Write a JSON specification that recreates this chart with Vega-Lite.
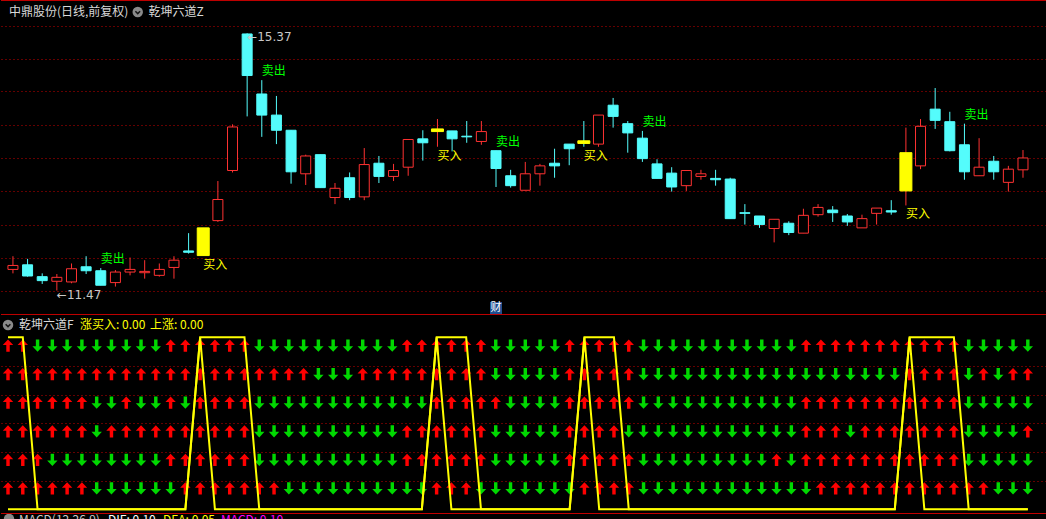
{
"$schema": "https://vega.github.io/schema/vega-lite/v6.json",
"background": "#000000",
"padding": 0,
"spacing": 0,
"bounds": "flush",
"config": {"view": {"stroke": null}, "text": {"font": "Noto Sans CJK SC", "fontSize": 12}},
"datasets": {
"days": [
{"i":0,"o":11.79,"c":11.85,"h":11.99,"l":11.73,"sig":"","hold":1,"buy":0,"a1":1,"a2":1,"a3":1,"a4":1,"a5":1,"a6":1},
{"i":1,"o":11.86,"c":11.69,"h":11.95,"l":11.68,"sig":"","hold":1,"buy":0,"a1":1,"a2":1,"a3":1,"a4":1,"a5":1,"a6":1},
{"i":2,"o":11.68,"c":11.62,"h":11.73,"l":11.57,"sig":"","hold":0,"buy":0,"a1":0,"a2":1,"a3":1,"a4":1,"a5":1,"a6":1},
{"i":3,"o":11.61,"c":11.67,"h":11.72,"l":11.47,"sig":"","hold":0,"buy":0,"a1":0,"a2":1,"a3":1,"a4":1,"a5":0,"a6":1},
{"i":4,"o":11.60,"c":11.80,"h":11.88,"l":11.58,"sig":"","hold":0,"buy":0,"a1":0,"a2":1,"a3":1,"a4":1,"a5":0,"a6":1},
{"i":5,"o":11.83,"c":11.77,"h":11.99,"l":11.72,"sig":"","hold":0,"buy":0,"a1":0,"a2":1,"a3":1,"a4":1,"a5":0,"a6":1},
{"i":6,"o":11.77,"c":11.55,"h":11.81,"l":11.55,"sig":"卖出","hold":0,"buy":0,"a1":0,"a2":1,"a3":0,"a4":0,"a5":0,"a6":0},
{"i":7,"o":11.59,"c":11.75,"h":11.78,"l":11.53,"sig":"","hold":0,"buy":0,"a1":0,"a2":1,"a3":0,"a4":1,"a5":0,"a6":0},
{"i":8,"o":11.75,"c":11.79,"h":11.97,"l":11.70,"sig":"","hold":0,"buy":0,"a1":0,"a2":1,"a3":1,"a4":1,"a5":0,"a6":0},
{"i":9,"o":11.74,"c":11.76,"h":11.93,"l":11.65,"sig":"","hold":0,"buy":0,"a1":0,"a2":1,"a3":0,"a4":1,"a5":0,"a6":0},
{"i":10,"o":11.70,"c":11.79,"h":11.88,"l":11.68,"sig":"","hold":0,"buy":0,"a1":0,"a2":1,"a3":0,"a4":1,"a5":0,"a6":0},
{"i":11,"o":11.82,"c":11.93,"h":11.99,"l":11.65,"sig":"","hold":0,"buy":0,"a1":1,"a2":1,"a3":1,"a4":1,"a5":1,"a6":0},
{"i":12,"o":12.07,"c":12.05,"h":12.34,"l":12.03,"sig":"","hold":0,"buy":0,"a1":1,"a2":1,"a3":0,"a4":1,"a5":1,"a6":1},
{"i":13,"o":12.00,"c":12.42,"h":12.42,"l":12.00,"sig":"买入","hold":1,"buy":1,"a1":1,"a2":1,"a3":1,"a4":1,"a5":1,"a6":1},
{"i":14,"o":12.53,"c":12.85,"h":13.13,"l":12.51,"sig":"","hold":1,"buy":0,"a1":1,"a2":1,"a3":1,"a4":1,"a5":1,"a6":1},
{"i":15,"o":13.29,"c":13.95,"h":13.99,"l":13.26,"sig":"","hold":1,"buy":0,"a1":1,"a2":1,"a3":1,"a4":1,"a5":1,"a6":1},
{"i":16,"o":15.36,"c":14.73,"h":15.37,"l":14.11,"sig":"","hold":1,"buy":0,"a1":1,"a2":1,"a3":1,"a4":1,"a5":1,"a6":1},
{"i":17,"o":14.45,"c":14.13,"h":14.66,"l":13.80,"sig":"卖出","hold":0,"buy":0,"a1":0,"a2":1,"a3":0,"a4":0,"a5":0,"a6":1},
{"i":18,"o":14.13,"c":13.90,"h":14.42,"l":13.69,"sig":"","hold":0,"buy":0,"a1":0,"a2":1,"a3":0,"a4":0,"a5":0,"a6":1},
{"i":19,"o":13.90,"c":13.27,"h":13.90,"l":13.09,"sig":"","hold":0,"buy":0,"a1":0,"a2":1,"a3":0,"a4":0,"a5":0,"a6":0},
{"i":20,"o":13.24,"c":13.51,"h":13.53,"l":13.07,"sig":"","hold":0,"buy":0,"a1":0,"a2":1,"a3":0,"a4":0,"a5":0,"a6":0},
{"i":21,"o":13.53,"c":13.03,"h":13.53,"l":13.03,"sig":"","hold":0,"buy":0,"a1":0,"a2":0,"a3":0,"a4":0,"a5":0,"a6":0},
{"i":22,"o":12.88,"c":13.02,"h":13.10,"l":12.78,"sig":"","hold":0,"buy":0,"a1":0,"a2":0,"a3":0,"a4":0,"a5":0,"a6":0},
{"i":23,"o":13.18,"c":12.88,"h":13.26,"l":12.84,"sig":"","hold":0,"buy":0,"a1":0,"a2":0,"a3":0,"a4":0,"a5":0,"a6":0},
{"i":24,"o":12.89,"c":13.38,"h":13.63,"l":12.84,"sig":"","hold":0,"buy":0,"a1":0,"a2":1,"a3":0,"a4":0,"a5":0,"a6":0},
{"i":25,"o":13.40,"c":13.20,"h":13.51,"l":13.10,"sig":"","hold":0,"buy":0,"a1":0,"a2":1,"a3":0,"a4":0,"a5":0,"a6":0},
{"i":26,"o":13.20,"c":13.29,"h":13.39,"l":13.13,"sig":"","hold":0,"buy":0,"a1":0,"a2":1,"a3":0,"a4":0,"a5":0,"a6":0},
{"i":27,"o":13.34,"c":13.76,"h":13.76,"l":13.21,"sig":"","hold":0,"buy":0,"a1":1,"a2":1,"a3":0,"a4":1,"a5":1,"a6":0},
{"i":28,"o":13.77,"c":13.71,"h":13.90,"l":13.44,"sig":"","hold":0,"buy":0,"a1":1,"a2":1,"a3":0,"a4":1,"a5":1,"a6":0},
{"i":29,"o":13.88,"c":13.92,"h":14.07,"l":13.65,"sig":"买入","hold":1,"buy":1,"a1":1,"a2":1,"a3":1,"a4":1,"a5":1,"a6":1},
{"i":30,"o":13.89,"c":13.77,"h":13.89,"l":13.58,"sig":"","hold":1,"buy":0,"a1":1,"a2":1,"a3":1,"a4":1,"a5":1,"a6":1},
{"i":31,"o":13.81,"c":13.80,"h":14.04,"l":13.71,"sig":"","hold":1,"buy":0,"a1":1,"a2":1,"a3":1,"a4":1,"a5":1,"a6":1},
{"i":32,"o":13.73,"c":13.88,"h":14.04,"l":13.68,"sig":"","hold":0,"buy":0,"a1":1,"a2":1,"a3":1,"a4":1,"a5":1,"a6":0},
{"i":33,"o":13.59,"c":13.32,"h":13.59,"l":13.04,"sig":"卖出","hold":0,"buy":0,"a1":0,"a2":0,"a3":1,"a4":0,"a5":0,"a6":0},
{"i":34,"o":13.21,"c":13.06,"h":13.30,"l":13.03,"sig":"","hold":0,"buy":0,"a1":0,"a2":0,"a3":0,"a4":0,"a5":0,"a6":0},
{"i":35,"o":12.99,"c":13.24,"h":13.42,"l":12.99,"sig":"","hold":0,"buy":0,"a1":0,"a2":0,"a3":0,"a4":0,"a5":0,"a6":0},
{"i":36,"o":13.24,"c":13.36,"h":13.39,"l":13.06,"sig":"","hold":0,"buy":0,"a1":0,"a2":0,"a3":0,"a4":0,"a5":0,"a6":0},
{"i":37,"o":13.40,"c":13.36,"h":13.62,"l":13.18,"sig":"","hold":0,"buy":0,"a1":0,"a2":0,"a3":0,"a4":0,"a5":0,"a6":0},
{"i":38,"o":13.69,"c":13.62,"h":13.69,"l":13.37,"sig":"","hold":0,"buy":0,"a1":1,"a2":1,"a3":1,"a4":1,"a5":1,"a6":0},
{"i":39,"o":13.74,"c":13.70,"h":14.04,"l":13.65,"sig":"买入","hold":1,"buy":1,"a1":1,"a2":1,"a3":1,"a4":1,"a5":1,"a6":1},
{"i":40,"o":13.69,"c":14.13,"h":14.13,"l":13.65,"sig":"","hold":1,"buy":0,"a1":1,"a2":1,"a3":1,"a4":1,"a5":1,"a6":1},
{"i":41,"o":14.28,"c":14.11,"h":14.39,"l":13.94,"sig":"","hold":1,"buy":0,"a1":1,"a2":1,"a3":1,"a4":1,"a5":1,"a6":1},
{"i":42,"o":14.00,"c":13.86,"h":14.04,"l":13.56,"sig":"","hold":0,"buy":0,"a1":1,"a2":1,"a3":1,"a4":0,"a5":1,"a6":1},
{"i":43,"o":13.78,"c":13.47,"h":13.89,"l":13.42,"sig":"卖出","hold":0,"buy":0,"a1":0,"a2":0,"a3":0,"a4":0,"a5":0,"a6":0},
{"i":44,"o":13.39,"c":13.17,"h":13.46,"l":13.17,"sig":"","hold":0,"buy":0,"a1":0,"a2":0,"a3":0,"a4":0,"a5":0,"a6":0},
{"i":45,"o":13.25,"c":13.04,"h":13.34,"l":12.97,"sig":"","hold":0,"buy":0,"a1":0,"a2":0,"a3":0,"a4":0,"a5":0,"a6":0},
{"i":46,"o":13.06,"c":13.29,"h":13.29,"l":12.98,"sig":"","hold":0,"buy":0,"a1":0,"a2":0,"a3":0,"a4":0,"a5":0,"a6":0},
{"i":47,"o":13.20,"c":13.24,"h":13.30,"l":13.15,"sig":"","hold":0,"buy":0,"a1":0,"a2":0,"a3":0,"a4":0,"a5":0,"a6":0},
{"i":48,"o":13.17,"c":13.15,"h":13.30,"l":13.06,"sig":"","hold":0,"buy":0,"a1":0,"a2":0,"a3":0,"a4":0,"a5":0,"a6":0},
{"i":49,"o":13.16,"c":12.56,"h":13.18,"l":12.56,"sig":"","hold":0,"buy":0,"a1":0,"a2":0,"a3":0,"a4":0,"a5":0,"a6":0},
{"i":50,"o":12.65,"c":12.64,"h":12.78,"l":12.47,"sig":"","hold":0,"buy":0,"a1":0,"a2":0,"a3":0,"a4":0,"a5":0,"a6":0},
{"i":51,"o":12.60,"c":12.47,"h":12.60,"l":12.42,"sig":"","hold":0,"buy":0,"a1":0,"a2":0,"a3":0,"a4":0,"a5":0,"a6":0},
{"i":52,"o":12.41,"c":12.55,"h":12.55,"l":12.20,"sig":"","hold":0,"buy":0,"a1":0,"a2":0,"a3":0,"a4":0,"a5":1,"a6":0},
{"i":53,"o":12.49,"c":12.35,"h":12.52,"l":12.31,"sig":"","hold":0,"buy":0,"a1":0,"a2":0,"a3":0,"a4":0,"a5":0,"a6":0},
{"i":54,"o":12.34,"c":12.61,"h":12.71,"l":12.34,"sig":"","hold":0,"buy":0,"a1":1,"a2":0,"a3":1,"a4":1,"a5":1,"a6":0},
{"i":55,"o":12.62,"c":12.73,"h":12.78,"l":12.59,"sig":"","hold":0,"buy":0,"a1":1,"a2":0,"a3":1,"a4":1,"a5":1,"a6":1},
{"i":56,"o":12.69,"c":12.65,"h":12.75,"l":12.51,"sig":"","hold":0,"buy":0,"a1":1,"a2":0,"a3":1,"a4":1,"a5":1,"a6":1},
{"i":57,"o":12.60,"c":12.51,"h":12.63,"l":12.45,"sig":"","hold":0,"buy":0,"a1":1,"a2":0,"a3":1,"a4":0,"a5":1,"a6":1},
{"i":58,"o":12.42,"c":12.56,"h":12.62,"l":12.42,"sig":"","hold":0,"buy":0,"a1":1,"a2":0,"a3":1,"a4":1,"a5":1,"a6":1},
{"i":59,"o":12.64,"c":12.72,"h":12.72,"l":12.47,"sig":"","hold":0,"buy":0,"a1":1,"a2":0,"a3":1,"a4":1,"a5":1,"a6":1},
{"i":60,"o":12.68,"c":12.66,"h":12.84,"l":12.62,"sig":"","hold":0,"buy":0,"a1":1,"a2":0,"a3":1,"a4":1,"a5":1,"a6":1},
{"i":61,"o":12.98,"c":13.56,"h":13.94,"l":12.76,"sig":"买入","hold":1,"buy":1,"a1":1,"a2":1,"a3":1,"a4":1,"a5":1,"a6":1},
{"i":62,"o":13.36,"c":13.96,"h":14.07,"l":13.31,"sig":"","hold":1,"buy":0,"a1":1,"a2":1,"a3":1,"a4":1,"a5":1,"a6":1},
{"i":63,"o":14.22,"c":14.05,"h":14.54,"l":13.92,"sig":"","hold":1,"buy":0,"a1":1,"a2":1,"a3":1,"a4":1,"a5":1,"a6":1},
{"i":64,"o":14.03,"c":13.59,"h":14.18,"l":13.58,"sig":"","hold":1,"buy":0,"a1":1,"a2":1,"a3":1,"a4":1,"a5":1,"a6":1},
{"i":65,"o":13.68,"c":13.27,"h":14.00,"l":13.15,"sig":"卖出","hold":0,"buy":0,"a1":0,"a2":0,"a3":0,"a4":0,"a5":0,"a6":1},
{"i":66,"o":13.21,"c":13.34,"h":13.78,"l":13.21,"sig":"","hold":0,"buy":0,"a1":0,"a2":1,"a3":0,"a4":0,"a5":0,"a6":1},
{"i":67,"o":13.43,"c":13.27,"h":13.51,"l":13.15,"sig":"","hold":0,"buy":0,"a1":0,"a2":0,"a3":0,"a4":0,"a5":0,"a6":0},
{"i":68,"o":13.11,"c":13.31,"h":13.36,"l":12.97,"sig":"","hold":0,"buy":0,"a1":0,"a2":1,"a3":0,"a4":0,"a5":0,"a6":0},
{"i":69,"o":13.30,"c":13.48,"h":13.60,"l":13.18,"sig":"","hold":0,"buy":0,"a1":0,"a2":1,"a3":0,"a4":1,"a5":0,"a6":0}
],
"ann": [{"i":16,"p":15.37,"t":"←15.37"},{"i":3,"p":11.47,"t":"←11.47"}],
"ev": [{"i":33,"t":"财"}]
},
"vconcat": [
{
"width": 1046, "height": 314,
"resolve": {"axis": {"y": "independent"}},
"layer": [
{"data":{"name":"days"},"mark":{"type":"rule","strokeWidth":1},
 "encoding":{"x":{"field":"i","type":"quantitative","scale":{"domain":[-0.474,70.298],"nice":false,"zero":false},"axis":null},
 "y":{"field":"l","type":"quantitative","scale":{"domain":[11.114,15.875],"nice":false,"zero":false},
  "axis":{"values":[15.488,14.983,14.488,13.983,13.483,12.982,12.467,11.966,11.466],"grid":true,"gridColor":"#C80000","gridDash":[1,3],"gridWidth":1,"gridOpacity":1,"gridCap":"butt","labels":false,"ticks":false,"domain":false,"title":null,"zindex":0}},
 "y2":{"field":"h"},
 "color":{"condition":{"test":"datum.c >= datum.o","value":"#FF3232"},"value":"#54FCFC"}}},
{"data":{"name":"days"},"transform":[{"filter":"datum.sig !== '买入'"}],"mark":{"type":"bar","width":10,"strokeWidth":1,"opacity":1},
 "encoding":{"x":{"field":"i","type":"quantitative","scale":{"domain":[-0.474,70.298],"nice":false,"zero":false},"axis":null},
 "y":{"field":"o","type":"quantitative","scale":{"domain":[11.114,15.875],"nice":false,"zero":false},"axis":null},
 "y2":{"field":"c"},
 "fill":{"condition":{"test":"datum.c >= datum.o","value":"#000000"},"value":"#54FCFC"},
 "stroke":{"condition":{"test":"datum.c >= datum.o","value":"#FF3232"},"value":"#54FCFC"}}},
{"data":{"name":"days"},"transform":[{"filter":"datum.sig === '买入'"}],"mark":{"type":"bar","width":12,"strokeWidth":1,"fill":"#FFFF00","stroke":"#FFFF00","opacity":1},
 "encoding":{"x":{"field":"i","type":"quantitative","scale":{"domain":[-0.474,70.298],"nice":false,"zero":false},"axis":null},
 "y":{"field":"o","type":"quantitative","scale":{"domain":[11.114,15.875],"nice":false,"zero":false},"axis":null},
 "y2":{"field":"c"}}},
{"data":{"name":"days"},"transform":[{"filter":"datum.sig === '卖出'"}],"mark":{"type":"text","align":"left","baseline":"middle","dy":-9,"fill":"#00FF00","fontSize":12},
 "encoding":{"x":{"field":"i","type":"quantitative","scale":{"domain":[-0.474,70.298],"nice":false,"zero":false},"axis":null},
 "y":{"field":"h","type":"quantitative","scale":{"domain":[11.114,15.875],"nice":false,"zero":false},"axis":null},
 "text":{"field":"sig"}}},
{"data":{"name":"days"},"transform":[{"filter":"datum.sig === '买入'"}],"mark":{"type":"text","align":"left","baseline":"middle","dy":9,"fill":"#FFFF00","fontSize":12},
 "encoding":{"x":{"field":"i","type":"quantitative","scale":{"domain":[-0.474,70.298],"nice":false,"zero":false},"axis":null},
 "y":{"field":"l","type":"quantitative","scale":{"domain":[11.114,15.875],"nice":false,"zero":false},"axis":null},
 "text":{"field":"sig"}}},
{"data":{"name":"ann"},"mark":{"type":"text","align":"left","baseline":"middle","dy":4,"fill":"#C8C8C8","fontSize":12,"font":"DejaVu Sans"},
 "encoding":{"x":{"field":"i","type":"quantitative","scale":{"domain":[-0.474,70.298],"nice":false,"zero":false},"axis":null},
 "y":{"field":"p","type":"quantitative","scale":{"domain":[11.114,15.875],"nice":false,"zero":false},"axis":null},
 "text":{"field":"t"}}},
{"data":{"name":"ev"},"mark":{"type":"square","size":144,"filled":true,"fill":"#1F4F8F","opacity":1},
 "encoding":{"x":{"field":"i","type":"quantitative","scale":{"domain":[-0.474,70.298],"nice":false,"zero":false},"axis":null},
 "y":{"datum":11.205,"type":"quantitative","scale":{"domain":[11.114,15.875],"nice":false,"zero":false},"axis":null}}},
{"data":{"name":"ev"},"mark":{"type":"text","align":"center","baseline":"middle","fill":"#FFFFFF","fontSize":11},
 "encoding":{"x":{"field":"i","type":"quantitative","scale":{"domain":[-0.474,70.298],"nice":false,"zero":false},"axis":null},
 "y":{"datum":11.205,"type":"quantitative","scale":{"domain":[11.114,15.875],"nice":false,"zero":false},"axis":null},
 "text":{"field":"t"}}},
{"data":{"values":[{}]},"mark":{"type":"text","align":"left","baseline":"middle","fill":"#D8D8D8","fontSize":12,"text":"中鼎股份(日线,前复权)"},
 "encoding":{"x":{"datum":-0.271,"type":"quantitative","scale":{"domain":[-0.474,70.298],"nice":false,"zero":false},"axis":null},
 "y":{"datum":15.693,"type":"quantitative","scale":{"domain":[11.114,15.875],"nice":false,"zero":false},"axis":null}}},
{"data":{"values":[{}]},"mark":{"type":"circle","size":110,"fill":"#8A8A8A","opacity":1},
 "encoding":{"x":{"datum":8.525,"type":"quantitative","scale":{"domain":[-0.474,70.298],"nice":false,"zero":false},"axis":null},
 "y":{"datum":15.693,"type":"quantitative","scale":{"domain":[11.114,15.875],"nice":false,"zero":false},"axis":null}}},
{"data":{"values":[{}]},"mark":{"type":"point","shape":"M-0.45,-0.15L0,0.3L0.45,-0.15","size":110,"filled":false,"stroke":"#151515","strokeWidth":1.5,"opacity":1},
 "encoding":{"x":{"datum":8.525,"type":"quantitative","scale":{"domain":[-0.474,70.298],"nice":false,"zero":false},"axis":null},
 "y":{"datum":15.693,"type":"quantitative","scale":{"domain":[11.114,15.875],"nice":false,"zero":false},"axis":null}}},
{"data":{"values":[{}]},"mark":{"type":"text","align":"left","baseline":"middle","fill":"#D8D8D8","fontSize":12,"text":"乾坤六道Z"},
 "encoding":{"x":{"datum":9.269,"type":"quantitative","scale":{"domain":[-0.474,70.298],"nice":false,"zero":false},"axis":null},
 "y":{"datum":15.693,"type":"quantitative","scale":{"domain":[11.114,15.875],"nice":false,"zero":false},"axis":null}}},
{"data":{"values":[{}]},"mark":{"type":"rule","color":"#C00000","strokeWidth":1},
 "encoding":{"y":{"datum":15.867,"type":"quantitative","scale":{"domain":[11.114,15.875],"nice":false,"zero":false},"axis":null}}}
]
},
{
"width": 1046, "height": 200,
"resolve": {"scale": {"y": "independent"}},
"layer": [
{"data":{"name":"days"},"mark":{"type":"line","strokeWidth":0,"opacity":0},
 "encoding":{"x":{"field":"i","type":"quantitative","scale":{"domain":[-0.474,70.298],"nice":false,"zero":false},"axis":null},
 "y":{"field":"hold","type":"quantitative","scale":{"domain":[-0.0273,1.1355],"nice":false,"zero":false},
  "axis":{"values":[0.1648,0.3334,0.5,0.6666,0.8331],"grid":true,"gridColor":"#C80000","gridDash":[1,3],"gridWidth":1,"gridOpacity":1,"gridCap":"butt","labels":false,"ticks":false,"domain":false,"title":null,"zindex":0}}}},
{"data":{"name":"days"},"transform":[{"fold":["a1","a2","a3","a4","a5","a6"],"as":["row","up"]}],
 "mark":{"type":"point","filled":true,"size":150,"opacity":1,"strokeWidth":0},
 "encoding":{"x":{"field":"i","type":"quantitative","scale":{"domain":[-0.474,70.298],"nice":false,"zero":false},"axis":null},
 "y":{"field":"row","type":"ordinal","scale":{"type":"point","domain":["a1","a2","a3","a4","a5","a6"],"padding":1.006,"align":0.552},"axis":null},
 "shape":{"field":"up","type":"nominal","scale":{"domain":[1,0],"range":["M0,-1L0.85,-0.1L0.28,-0.1L0.28,1L-0.28,1L-0.28,-0.1L-0.85,-0.1Z","M0,1L0.85,0.1L0.28,0.1L0.28,-1L-0.28,-1L-0.28,0.1L-0.85,0.1Z"]},"legend":null},
 "color":{"field":"up","type":"nominal","scale":{"domain":[1,0],"range":["#FF0000","#00D800"]},"legend":null}}},
{"data":{"name":"days"},"mark":{"type":"line","color":"#FFFF00","strokeWidth":2},
 "encoding":{"x":{"field":"i","type":"quantitative","scale":{"domain":[-0.474,70.298],"nice":false,"zero":false},"axis":null},
 "y":{"field":"hold","type":"quantitative","scale":{"domain":[-0.0273,1.1355],"nice":false,"zero":false},"axis":null}}},
{"data":{"name":"days"},"mark":{"type":"line","color":"#FFFF00","strokeWidth":2},
 "encoding":{"x":{"field":"i","type":"quantitative","scale":{"domain":[-0.474,70.298],"nice":false,"zero":false},"axis":null},
 "y":{"field":"buy","type":"quantitative","scale":{"domain":[-0.0273,1.1355],"nice":false,"zero":false},"axis":null}}},
{"data":{"values":[{}]},"mark":{"type":"circle","size":110,"fill":"#8A8A8A","opacity":1},
 "encoding":{"x":{"datum":0,"type":"quantitative","scale":{"domain":[-0.474,70.298],"nice":false,"zero":false},"axis":null},
 "y":{"datum":1.0715,"type":"quantitative","scale":{"domain":[-0.0273,1.1355],"nice":false,"zero":false},"axis":null}}},
{"data":{"values":[{}]},"mark":{"type":"point","shape":"M-0.45,-0.15L0,0.3L0.45,-0.15","size":110,"filled":false,"stroke":"#151515","strokeWidth":1.5,"opacity":1},
 "encoding":{"x":{"datum":0,"type":"quantitative","scale":{"domain":[-0.474,70.298],"nice":false,"zero":false},"axis":null},
 "y":{"datum":1.0715,"type":"quantitative","scale":{"domain":[-0.0273,1.1355],"nice":false,"zero":false},"axis":null}}},
{"data":{"values":[{}]},"mark":{"type":"text","align":"left","baseline":"middle","fill":"#D8D8D8","fontSize":12,"text":"乾坤六道F"},
 "encoding":{"x":{"datum":0.744,"type":"quantitative","scale":{"domain":[-0.474,70.298],"nice":false,"zero":false},"axis":null},
 "y":{"datum":1.0715,"type":"quantitative","scale":{"domain":[-0.0273,1.1355],"nice":false,"zero":false},"axis":null}}},
{"data":{"values":[{}]},"mark":{"type":"text","align":"left","baseline":"middle","fill":"#FFFF00","fontSize":12,"text":"涨买入: 0.00"},
 "encoding":{"x":{"datum":4.871,"type":"quantitative","scale":{"domain":[-0.474,70.298],"nice":false,"zero":false},"axis":null},
 "y":{"datum":1.0715,"type":"quantitative","scale":{"domain":[-0.0273,1.1355],"nice":false,"zero":false},"axis":null}}},
{"data":{"values":[{}]},"mark":{"type":"text","align":"left","baseline":"middle","fill":"#FFFF00","fontSize":12,"text":"上涨: 0.00"},
 "encoding":{"x":{"datum":9.608,"type":"quantitative","scale":{"domain":[-0.474,70.298],"nice":false,"zero":false},"axis":null},
 "y":{"datum":1.0715,"type":"quantitative","scale":{"domain":[-0.0273,1.1355],"nice":false,"zero":false},"axis":null}}},
{"data":{"values":[{}]},"mark":{"type":"rule","color":"#C00000","strokeWidth":1},
 "encoding":{"y":{"datum":1.1326,"type":"quantitative","scale":{"domain":[-0.0273,1.1355],"nice":false,"zero":false},"axis":null}}},
{"data":{"values":[{}]},"mark":{"type":"rule","color":"#C00000","strokeWidth":1},
 "encoding":{"y":{"datum":-0.0244,"type":"quantitative","scale":{"domain":[-0.0273,1.1355],"nice":false,"zero":false},"axis":null}}}
]
},
{
"width": 1046, "height": 5,
"layer": [
{"data":{"values":[{}]},"mark":{"type":"circle","size":110,"fill":"#8A8A8A","opacity":1,"clip":true},
 "encoding":{"x":{"datum":0.068,"type":"quantitative","scale":{"domain":[-0.474,70.298],"nice":false,"zero":false},"axis":null},
 "y":{"datum":0,"type":"quantitative","scale":{"domain":[0,5],"nice":false,"zero":false},"axis":null}}},
{"data":{"values":[{}]},"mark":{"type":"text","align":"left","baseline":"middle","dy":1,"fill":"#C8C8C8","fontSize":12,"clip":true,"text":"MACD(12,26,9)"},
 "encoding":{"x":{"datum":0.744,"type":"quantitative","scale":{"domain":[-0.474,70.298],"nice":false,"zero":false},"axis":null},
 "y":{"datum":0,"type":"quantitative","scale":{"domain":[0,5],"nice":false,"zero":false},"axis":null}}},
{"data":{"values":[{}]},"mark":{"type":"text","align":"left","baseline":"middle","dy":1,"fill":"#FFFFFF","fontSize":12,"clip":true,"text":"DIF: 0.10"},
 "encoding":{"x":{"datum":6.766,"type":"quantitative","scale":{"domain":[-0.474,70.298],"nice":false,"zero":false},"axis":null},
 "y":{"datum":0,"type":"quantitative","scale":{"domain":[0,5],"nice":false,"zero":false},"axis":null}}},
{"data":{"values":[{}]},"mark":{"type":"text","align":"left","baseline":"middle","dy":1,"fill":"#FFFF00","fontSize":12,"clip":true,"text":"DEA: 0.05"},
 "encoding":{"x":{"datum":10.487,"type":"quantitative","scale":{"domain":[-0.474,70.298],"nice":false,"zero":false},"axis":null},
 "y":{"datum":0,"type":"quantitative","scale":{"domain":[0,5],"nice":false,"zero":false},"axis":null}}},
{"data":{"values":[{}]},"mark":{"type":"text","align":"left","baseline":"middle","dy":1,"fill":"#FF00FF","fontSize":12,"clip":true,"text":"MACD: 0.10"},
 "encoding":{"x":{"datum":14.411,"type":"quantitative","scale":{"domain":[-0.474,70.298],"nice":false,"zero":false},"axis":null},
 "y":{"datum":0,"type":"quantitative","scale":{"domain":[0,5],"nice":false,"zero":false},"axis":null}}}
]
}
]
}
